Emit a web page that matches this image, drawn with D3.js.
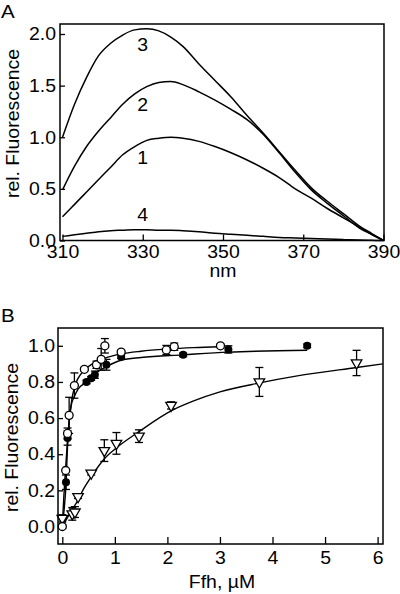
<!DOCTYPE html>
<html><head><meta charset="utf-8">
<script src="https://cdn.jsdelivr.net/npm/d3@7"></script>
<style>
body{margin:0;background:#fff}
svg{display:block}
text{font-family:"Liberation Sans",Arial,Helvetica,sans-serif;fill:#000}
</style>
</head><body>
<svg id="chart" width="400" height="594"></svg>
<script>
// ---------- Panel A data (emission spectra) ----------
const wavelengths = [310,313,316,319,322,325,328,331,334,337,340,344,348,352,356,360,364,368,372,376,380,384,387,390];
const spectrum1 = [0.23,0.35,0.47,0.59,0.71,0.83,0.91,0.97,0.99,1.00,0.99,0.96,0.91,0.85,0.78,0.70,0.61,0.50,0.41,0.31,0.22,0.13,0.06,0.00];
const spectrum2 = [0.49,0.72,0.91,1.06,1.19,1.32,1.42,1.49,1.53,1.54,1.51,1.44,1.36,1.27,1.17,1.03,0.85,0.66,0.49,0.36,0.24,0.12,0.06,0.00];
const spectrum3 = [1.00,1.32,1.58,1.79,1.91,1.99,2.04,2.05,2.03,1.97,1.88,1.71,1.55,1.39,1.21,1.04,0.86,0.68,0.51,0.38,0.26,0.14,0.07,0.00];
const spectrum4 = [0.04,0.055,0.07,0.085,0.095,0.10,0.105,0.105,0.10,0.10,0.095,0.085,0.07,0.06,0.05,0.04,0.03,0.025,0.02,0.015,0.01,0.005,0.002,0.00];
const spectrumNames = ["1","2","3","4"];
const spectrumLabelNm = 330;
const spectrumLabelVal = [0.80,1.31,1.89,0.25];
const aTicksX = [310,330,350,370,390];
const aTicksY = [0,0.5,1.0,1.5,2.0];

// ---------- Panel B data (titration) ----------
const openX   = [0,0.065,0.10,0.13,0.23,0.42,0.65,0.74,0.81,1.12,1.98,2.13,3.01];
const openY   = [0.0,0.31,0.515,0.615,0.78,0.87,0.895,0.925,1.0,0.965,0.977,0.995,1.0];
const openErr = [0.01,0.0,0.03,0.10,0.07,0.01,0.02,0.06,0.04,0.01,0.025,0.02,0.01];
const filledX   = [0.07,0.10,0.46,0.55,0.62,0.84,1.12,2.3,3.16,4.66];
const filledY   = [0.245,0.49,0.80,0.82,0.84,0.895,0.94,0.95,0.98,1.0];
const filledErr = [0.04,0.04,0.01,0.01,0.02,0.03,0.01,0.01,0.02,0.01];
const triX   = [0.0,0.19,0.24,0.30,0.55,0.80,1.03,1.46,2.07,3.75,5.6];
const triY   = [0.045,0.07,0.08,0.165,0.295,0.42,0.46,0.50,0.67,0.80,0.905];
const triErr = [0.02,0.035,0.03,0.01,0.01,0.06,0.06,0.035,0.02,0.08,0.07];
const openFitX = [0,0.03,0.065,0.1,0.13,0.18,0.23,0.3,0.42,0.6,0.8,1.12,1.5,2.0,2.5,3.0];
const openFitY = [0,0.17,0.33,0.48,0.58,0.70,0.77,0.82,0.865,0.905,0.93,0.955,0.97,0.982,0.99,0.995];
const filledFitX = [0,0.04,0.07,0.1,0.13,0.17,0.23,0.3,0.46,0.6,0.84,1.12,1.5,2.3,3.16,4.66];
const filledFitY = [0,0.11,0.23,0.45,0.58,0.67,0.72,0.76,0.80,0.84,0.885,0.92,0.935,0.95,0.965,0.975];
const triFitX = [0,0.1,0.2,0.29,0.4,0.55,0.8,1.03,1.46,2.07,2.5,3.0,3.76,4.5,5.6,6.1];
const triFitY = [0,0.05,0.10,0.14,0.205,0.275,0.375,0.435,0.525,0.64,0.695,0.745,0.795,0.835,0.88,0.90];
const bTicksX = [0,1,2,3,4,5,6];
const bTicksY = [0,0.2,0.4,0.6,0.8,1.0];

// ---------- drawing ----------
const FS = 18, STRETCH = 1.08;
const svg = d3.select("#chart");
function stretch(sel){
  sel.each(function(){
    const w = this.getComputedTextLength();
    if (w>0){ d3.select(this).attr("textLength", w*STRETCH).attr("lengthAdjust","spacingAndGlyphs"); }
  });
}
function styleAxis(g){
  g.select(".domain").remove();
  g.selectAll(".tick line").attr("stroke","#000").attr("stroke-width",1.3);
  g.selectAll(".tick text").attr("font-size",FS).attr("font-family",null);
  g.attr("font-family",null).attr("font-size",null);
  stretch(g.selectAll(".tick text"));
}

// Panel A
const xA = d3.scaleLinear().domain([310,390]).range([62.5,383.5]);
const yA = d3.scaleLinear().domain([0,2]).range([240.5,34]);
const gA = svg.append("g");
gA.append("g").attr("transform","translate(0,240.5)")
  .call(d3.axisBottom(xA).tickValues(aTicksX).tickSize(-6).tickPadding(5).tickFormat(d3.format("d")))
  .call(styleAxis);
gA.append("g").attr("transform","translate(60,0)")
  .call(d3.axisLeft(yA).tickValues(aTicksY).tickSize(-5).tickPadding(4).tickFormat(d3.format(".1f")))
  .call(styleAxis);
const lineA = d3.line().x((d,i)=>xA(wavelengths[i])).y(d=>yA(d)).curve(d3.curveMonotoneX);
[spectrum1,spectrum2,spectrum3,spectrum4].forEach(s=>{
  gA.append("path").attr("d",lineA(s)).attr("fill","none").attr("stroke","#000").attr("stroke-width",1.5);
});
gA.selectAll("text.lab").data(spectrumNames).join("text").attr("class","lab")
  .attr("x",xA(spectrumLabelNm)).attr("y",(d,i)=>yA(spectrumLabelVal[i]))
  .attr("text-anchor","middle").attr("dominant-baseline","central").attr("font-size",FS).text(d=>d)
  .call(stretch);
gA.append("rect").attr("x",60).attr("y",24).attr("width",324).attr("height",216.5)
  .attr("fill","none").attr("stroke","#000").attr("stroke-width",1.5);
gA.append("text").attr("x",223).attr("y",271).attr("text-anchor","middle").attr("dominant-baseline","central")
  .attr("font-size",FS).text("nm").call(stretch);
gA.append("text").attr("transform","translate(13,123.5) rotate(-90)").attr("text-anchor","middle")
  .attr("dominant-baseline","central").attr("font-size",FS).text("rel. Fluorescence").call(stretch);
svg.append("text").attr("x",1).attr("y",18).attr("font-size",19).text("A").call(stretch);

// Panel B
const xB = d3.scaleLinear().domain([0,6]).range([62.3,377.6]);
const yB = d3.scaleLinear().domain([0,1]).range([526.5,345.8]);
const gB = svg.append("g");
gB.append("g").attr("transform","translate(0,544)")
  .call(d3.axisBottom(xB).tickValues(bTicksX).tickSize(-7).tickPadding(7).tickFormat(d3.format("d")))
  .call(styleAxis);
gB.append("g").attr("transform","translate(58,0)")
  .call(d3.axisLeft(yB).tickValues(bTicksY).tickSize(-5).tickPadding(3).tickFormat(d3.format(".1f")))
  .call(styleAxis);
const fitLine = d3.line().x(d=>xB(d[0])).y(d=>yB(d[1])).curve(d3.curveMonotoneX);
[[openFitX,openFitY],[filledFitX,filledFitY],[triFitX,triFitY]].forEach(([xs,ys])=>{
  gB.append("path").attr("d",fitLine(xs.map((x,i)=>[x,ys[i]])))
    .attr("fill","none").attr("stroke","#000").attr("stroke-width",1.4);
});
function errBars(xs,ys,es){
  xs.forEach((x,i)=>{
    if (es[i]<=0) return;
    const cx = xB(x), y1 = yB(ys[i]-es[i]), y2 = yB(ys[i]+es[i]);
    const g = gB.append("g").attr("stroke","#000").attr("stroke-width",1.3);
    g.append("line").attr("x1",cx).attr("x2",cx).attr("y1",y1).attr("y2",y2);
    g.append("line").attr("x1",cx-4).attr("x2",cx+4).attr("y1",y1).attr("y2",y1);
    g.append("line").attr("x1",cx-4).attr("x2",cx+4).attr("y1",y2).attr("y2",y2);
  });
}
errBars(triX,triY,triErr);
errBars(filledX,filledY,filledErr);
errBars(openX,openY,openErr);
const triSym = d3.symbol().type(d3.symbolTriangle).size(48);
gB.selectAll("path.tri").data(triX).join("path").attr("class","tri")
  .attr("d",triSym).attr("transform",(d,i)=>`translate(${xB(d)},${yB(triY[i])}) rotate(180)`)
  .attr("fill","#fff").attr("stroke","#000").attr("stroke-width",1.3);
gB.selectAll("circle.filled").data(filledX).join("circle").attr("class","filled")
  .attr("cx",d=>xB(d)).attr("cy",(d,i)=>yB(filledY[i])).attr("r",4).attr("fill","#000");
gB.selectAll("circle.open").data(openX).join("circle").attr("class","open")
  .attr("cx",d=>xB(d)).attr("cy",(d,i)=>yB(openY[i])).attr("r",4)
  .attr("fill","#fff").attr("stroke","#000").attr("stroke-width",1.3);
gB.append("rect").attr("x",58).attr("y",328).attr("width",325).attr("height",216)
  .attr("fill","none").attr("stroke","#000").attr("stroke-width",1.5);
gB.append("text").attr("x",222).attr("y",582).attr("text-anchor","middle").attr("dominant-baseline","central")
  .attr("font-size",FS).text("Ffh, µM").call(stretch);
gB.append("text").attr("transform","translate(12,437.5) rotate(-90)").attr("text-anchor","middle")
  .attr("dominant-baseline","central").attr("font-size",FS).text("rel. Fluorescence").call(stretch);
svg.append("text").attr("x",1).attr("y",322).attr("font-size",19).text("B").call(stretch);
</script>
</body></html>
